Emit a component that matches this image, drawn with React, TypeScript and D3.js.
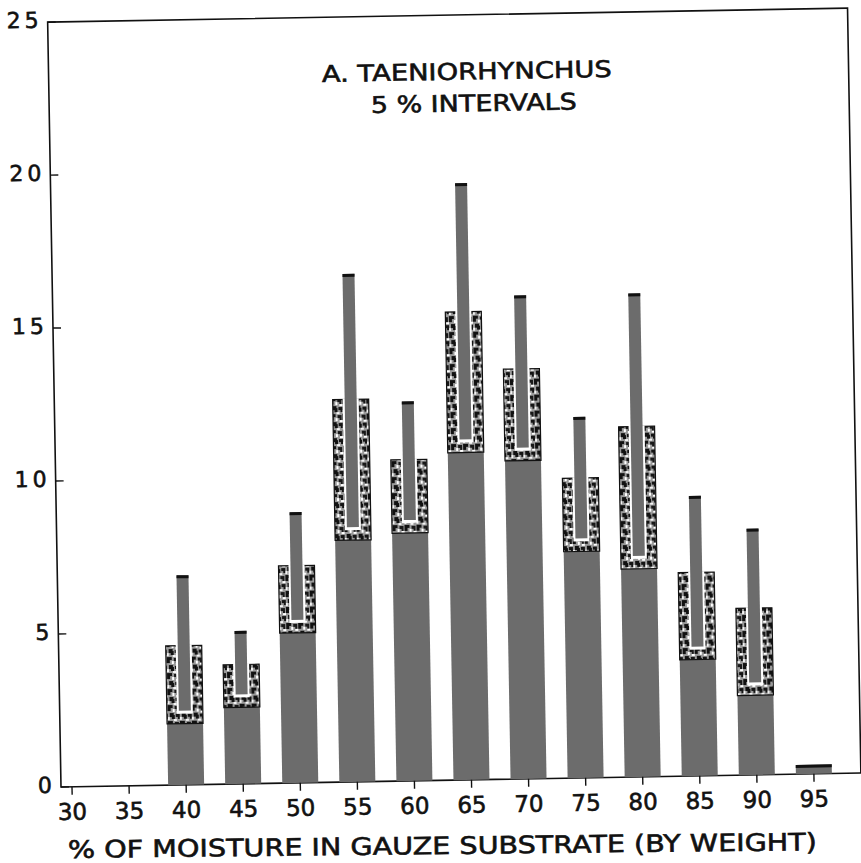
import React from "react";
import * as d3 from "d3";

// ---- data ----
const moisture = [40, 45, 50, 55, 60, 65, 70, 75, 80, 85, 90, 95];
const lowerValues = [2.0, 2.5, 4.9, 7.9, 8.1, 10.7, 10.4, 7.4, 6.8, 3.8, 2.6, 0.3];
const middleValues = [4.55, 3.9, 7.1, 12.5, 10.5, 15.3, 13.4, 9.8, 11.45, 6.65, 5.45, null];
const upperValues = [6.85, 5.0, 8.85, 16.6, 12.4, 19.5, 15.8, 11.8, 15.8, 9.15, 8.05, null];
const xTickValues = [30, 35, 40, 45, 50, 55, 60, 65, 70, 75, 80, 85, 90, 95];
const yTickValues = [0, 5, 10, 15, 20, 25];
const titleLine1 = "A. TAENIORHYNCHUS";
const titleLine2 = "5 % INTERVALS";
const xAxisTitle = "% OF MOISTURE IN GAUZE SUBSTRATE (BY WEIGHT)";

// ---- layout / style ----
const W = 861;
const H = 863;
const ORIGIN_X = 61;
const ORIGIN_Y = 787;
const PLOT_W = 800;
const PLOT_H = 765;
const TILT = -1;
const GREY = "#6c6c6c";
const WIDE = 36;
const BAND = 10;
const NARROW = 12;
const FONT = "'DejaVu Sans', 'Liberation Sans', sans-serif";
const INK = "#111";

export default function App() {
  const x = d3.scaleLinear().domain([30, 95]).range([11, 753]);
  const y = d3.scaleLinear().domain([0, 25]).range([0, -PLOT_H]);

  const bars = moisture.map((m, i) => ({
    m,
    lo: lowerValues[i],
    mid: middleValues[i],
    hi: upperValues[i],
  }));

  const textStyle = { stroke: INK, strokeWidth: 0.6, paintOrder: "stroke" } as React.CSSProperties;

  return (
    <svg
      width={W}
      height={H}
      style={{ position: "absolute", left: 0, top: 0, background: "#fff" }}
      xmlns="http://www.w3.org/2000/svg"
    >
      <defs>
        <pattern id="stip" width="12" height="16" patternUnits="userSpaceOnUse">
          <rect width="12" height="16" fill="#9a9a9a" />
          <path d="M0 0h5v3h-2v3h-3z" fill="#111" />
          <path d="M7 1h4v5h-2v-2h-2z" fill="#181818" />
          <path d="M2 8h4v2h1v4h-3v-2h-2z" fill="#111" />
          <path d="M8 9h4v5h-2v-2h-2z" fill="#141414" />
          <rect x="5" y="4" width="2" height="3" fill="#fff" />
          <rect x="0" y="12" width="2" height="3" fill="#f2f2f2" />
          <rect x="9" y="6" width="3" height="2" fill="#fff" />
          <rect x="6" y="14" width="3" height="2" fill="#f4f4f4" />
        </pattern>
      </defs>
      <rect width={W} height={H} fill="#fff" />

      <g transform={`translate(${ORIGIN_X},${ORIGIN_Y}) rotate(${TILT})`}>
        {/* frame */}
        <path
          d={`M0,0 V${-PLOT_H} H${PLOT_W} V0 Z`}
          fill="none"
          stroke={INK}
          strokeWidth={1.6}
        />

        {/* bars */}
        {bars.map((b) => {
          const cx = x(b.m);
          const yLo = y(b.lo);
          if (b.mid == null || b.hi == null) {
            return (
              <g key={b.m}>
                <rect x={cx - WIDE / 2} y={yLo} width={WIDE} height={-yLo} fill={GREY} />
                <rect x={cx - WIDE / 2} y={yLo} width={WIDE} height={3} fill={INK} />
              </g>
            );
          }
          const yMid = y(b.mid);
          const yHi = y(b.hi);
          const innerBottom = yLo - BAND;
          return (
            <g key={b.m}>
              <rect x={cx - WIDE / 2} y={yLo} width={WIDE} height={-yLo} fill={GREY} />
              <rect
                x={cx - WIDE / 2}
                y={yMid}
                width={WIDE}
                height={yLo - yMid}
                fill="url(#stip)"
                stroke={INK}
                strokeWidth={1.2}
              />
              <rect
                x={cx - WIDE / 2 + BAND}
                y={yMid - 1}
                width={WIDE - 2 * BAND}
                height={innerBottom - yMid + 1}
                fill="#fff"
              />
              <rect
                x={cx - NARROW / 2}
                y={yHi}
                width={NARROW}
                height={innerBottom - 3 - yHi}
                fill={GREY}
              />
              <rect x={cx - NARROW / 2} y={yHi} width={NARROW} height={3} fill={INK} />
            </g>
          );
        })}

        {/* x axis ticks */}
        {xTickValues.map((v) => (
          <g key={v} transform={`translate(${x(v)},0)`}>
            <line y1={0} y2={8} stroke={INK} strokeWidth={1.4} />
            <text
              y={25}
              textAnchor="middle"
              dominantBaseline="central"
              fontFamily={FONT}
              fontSize={23}
              fill={INK}
              style={textStyle}
            >
              {v}
            </text>
          </g>
        ))}

        {/* y axis ticks */}
        {yTickValues.map((v) => (
          <g key={v} transform={`translate(0,${y(v)})`}>
            <line x1={0} x2={8} stroke={INK} strokeWidth={1.4} />
            <text
              x={-5}
              y={-2}
              textAnchor="end"
              dominantBaseline="central"
              fontFamily={FONT}
              fontSize={22}
              letterSpacing={4}
              fill={INK}
              style={textStyle}
            >
              {v}
            </text>
          </g>
        ))}
      </g>

      {/* titles */}
      <text
        x={322}
        y={82}
        transform="rotate(-1,322,82)"
        fontFamily={FONT}
        fontSize={23}
        textLength={290}
        lengthAdjust="spacingAndGlyphs"
        fill={INK}
        style={textStyle}
      >
        {titleLine1}
      </text>
      <text
        x={371}
        y={113}
        transform="rotate(-1,371,113)"
        fontFamily={FONT}
        fontSize={23}
        textLength={206}
        lengthAdjust="spacingAndGlyphs"
        fill={INK}
        style={textStyle}
      >
        {titleLine2}
      </text>
      <text
        x={68}
        y={858}
        transform="rotate(-0.6,68,858)"
        fontFamily={FONT}
        fontSize={24}
        textLength={749}
        lengthAdjust="spacingAndGlyphs"
        fill={INK}
        style={textStyle}
      >
        {xAxisTitle}
      </text>
    </svg>
  );
}
